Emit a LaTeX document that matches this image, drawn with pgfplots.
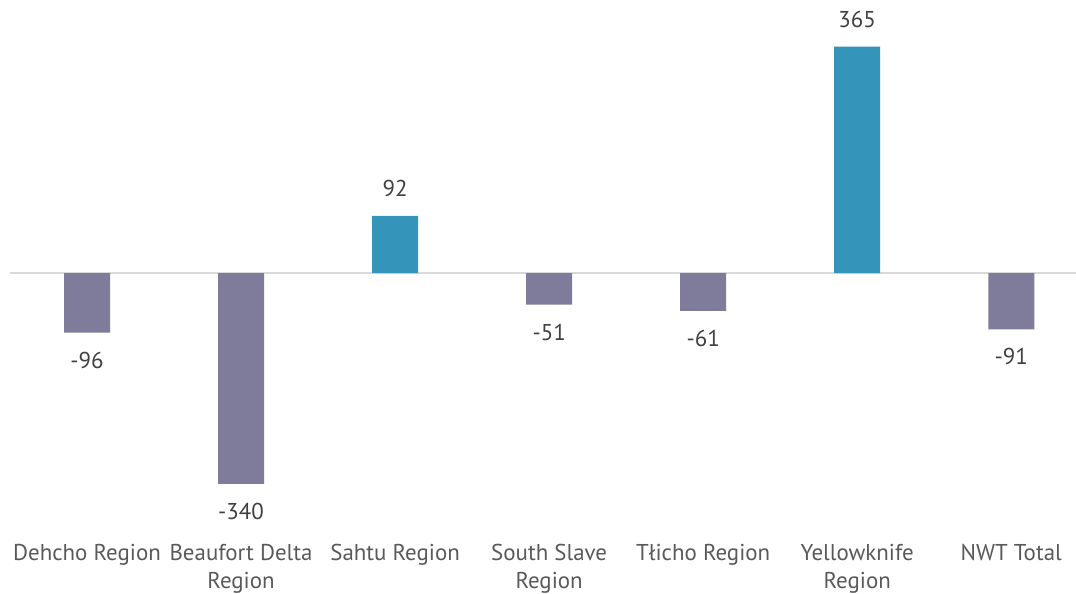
\documentclass[border=0pt]{standalone}
\usepackage{fontspec}
\setmainfont{PT Sans}
\usepackage{pgfplots}
\pgfplotsset{compat=1.18}
\definecolor{negbar}{HTML}{7F7B9A}
\definecolor{posbar}{HTML}{3494BA}
\definecolor{zeroline}{HTML}{D9D9D9}
\definecolor{ticktext}{HTML}{595959}
\definecolor{valtext}{HTML}{404040}

\begin{document}
\begin{tikzpicture}
\path[use as bounding box] (0,0) rectangle (1076bp,594bp);
\begin{axis}[
  at={(10bp,73bp)}, anchor=south west,
  scale only axis, width=1066bp, height=520.8bp,
  xmin=-0.5, xmax=6.42, ymin=-400, ymax=440,
  ybar, bar width=46bp, bar shift=0pt,
  axis line style={draw=none},
  ytick=\empty,
  xtick={0,1,2,3,4,5,6},
  xticklabels={Dehcho Region, {Beaufort Delta\\Region}, Sahtu Region, {South Slave\\Region}, Tłicho Region, {Yellowknife\\Region}, NWT Total},
  xtick style={draw=none},
  xticklabel style={align=center, anchor=north, inner sep=0pt, yshift=-19bp,
    font=\fontsize{23}{28}\selectfont, text=ticktext},
  extra y ticks={0}, extra y tick labels={},
  extra y tick style={grid=major, major grid style={color=zeroline, line width=1.6bp}, tick style={draw=none}},
  nodes near coords,
  nodes near coords style={font=\fontsize{23}{27}\selectfont, text=valtext, inner ysep=19bp},
  /pgf/number format/assume math mode=true,
]
\addplot[fill=negbar, draw=none] coordinates {(0,-96) (1,-340) (3,-51) (4,-61) (6,-91)};
\addplot[fill=posbar, draw=none] coordinates {(2,92) (5,365)};
\end{axis}
\end{tikzpicture}
\end{document}
